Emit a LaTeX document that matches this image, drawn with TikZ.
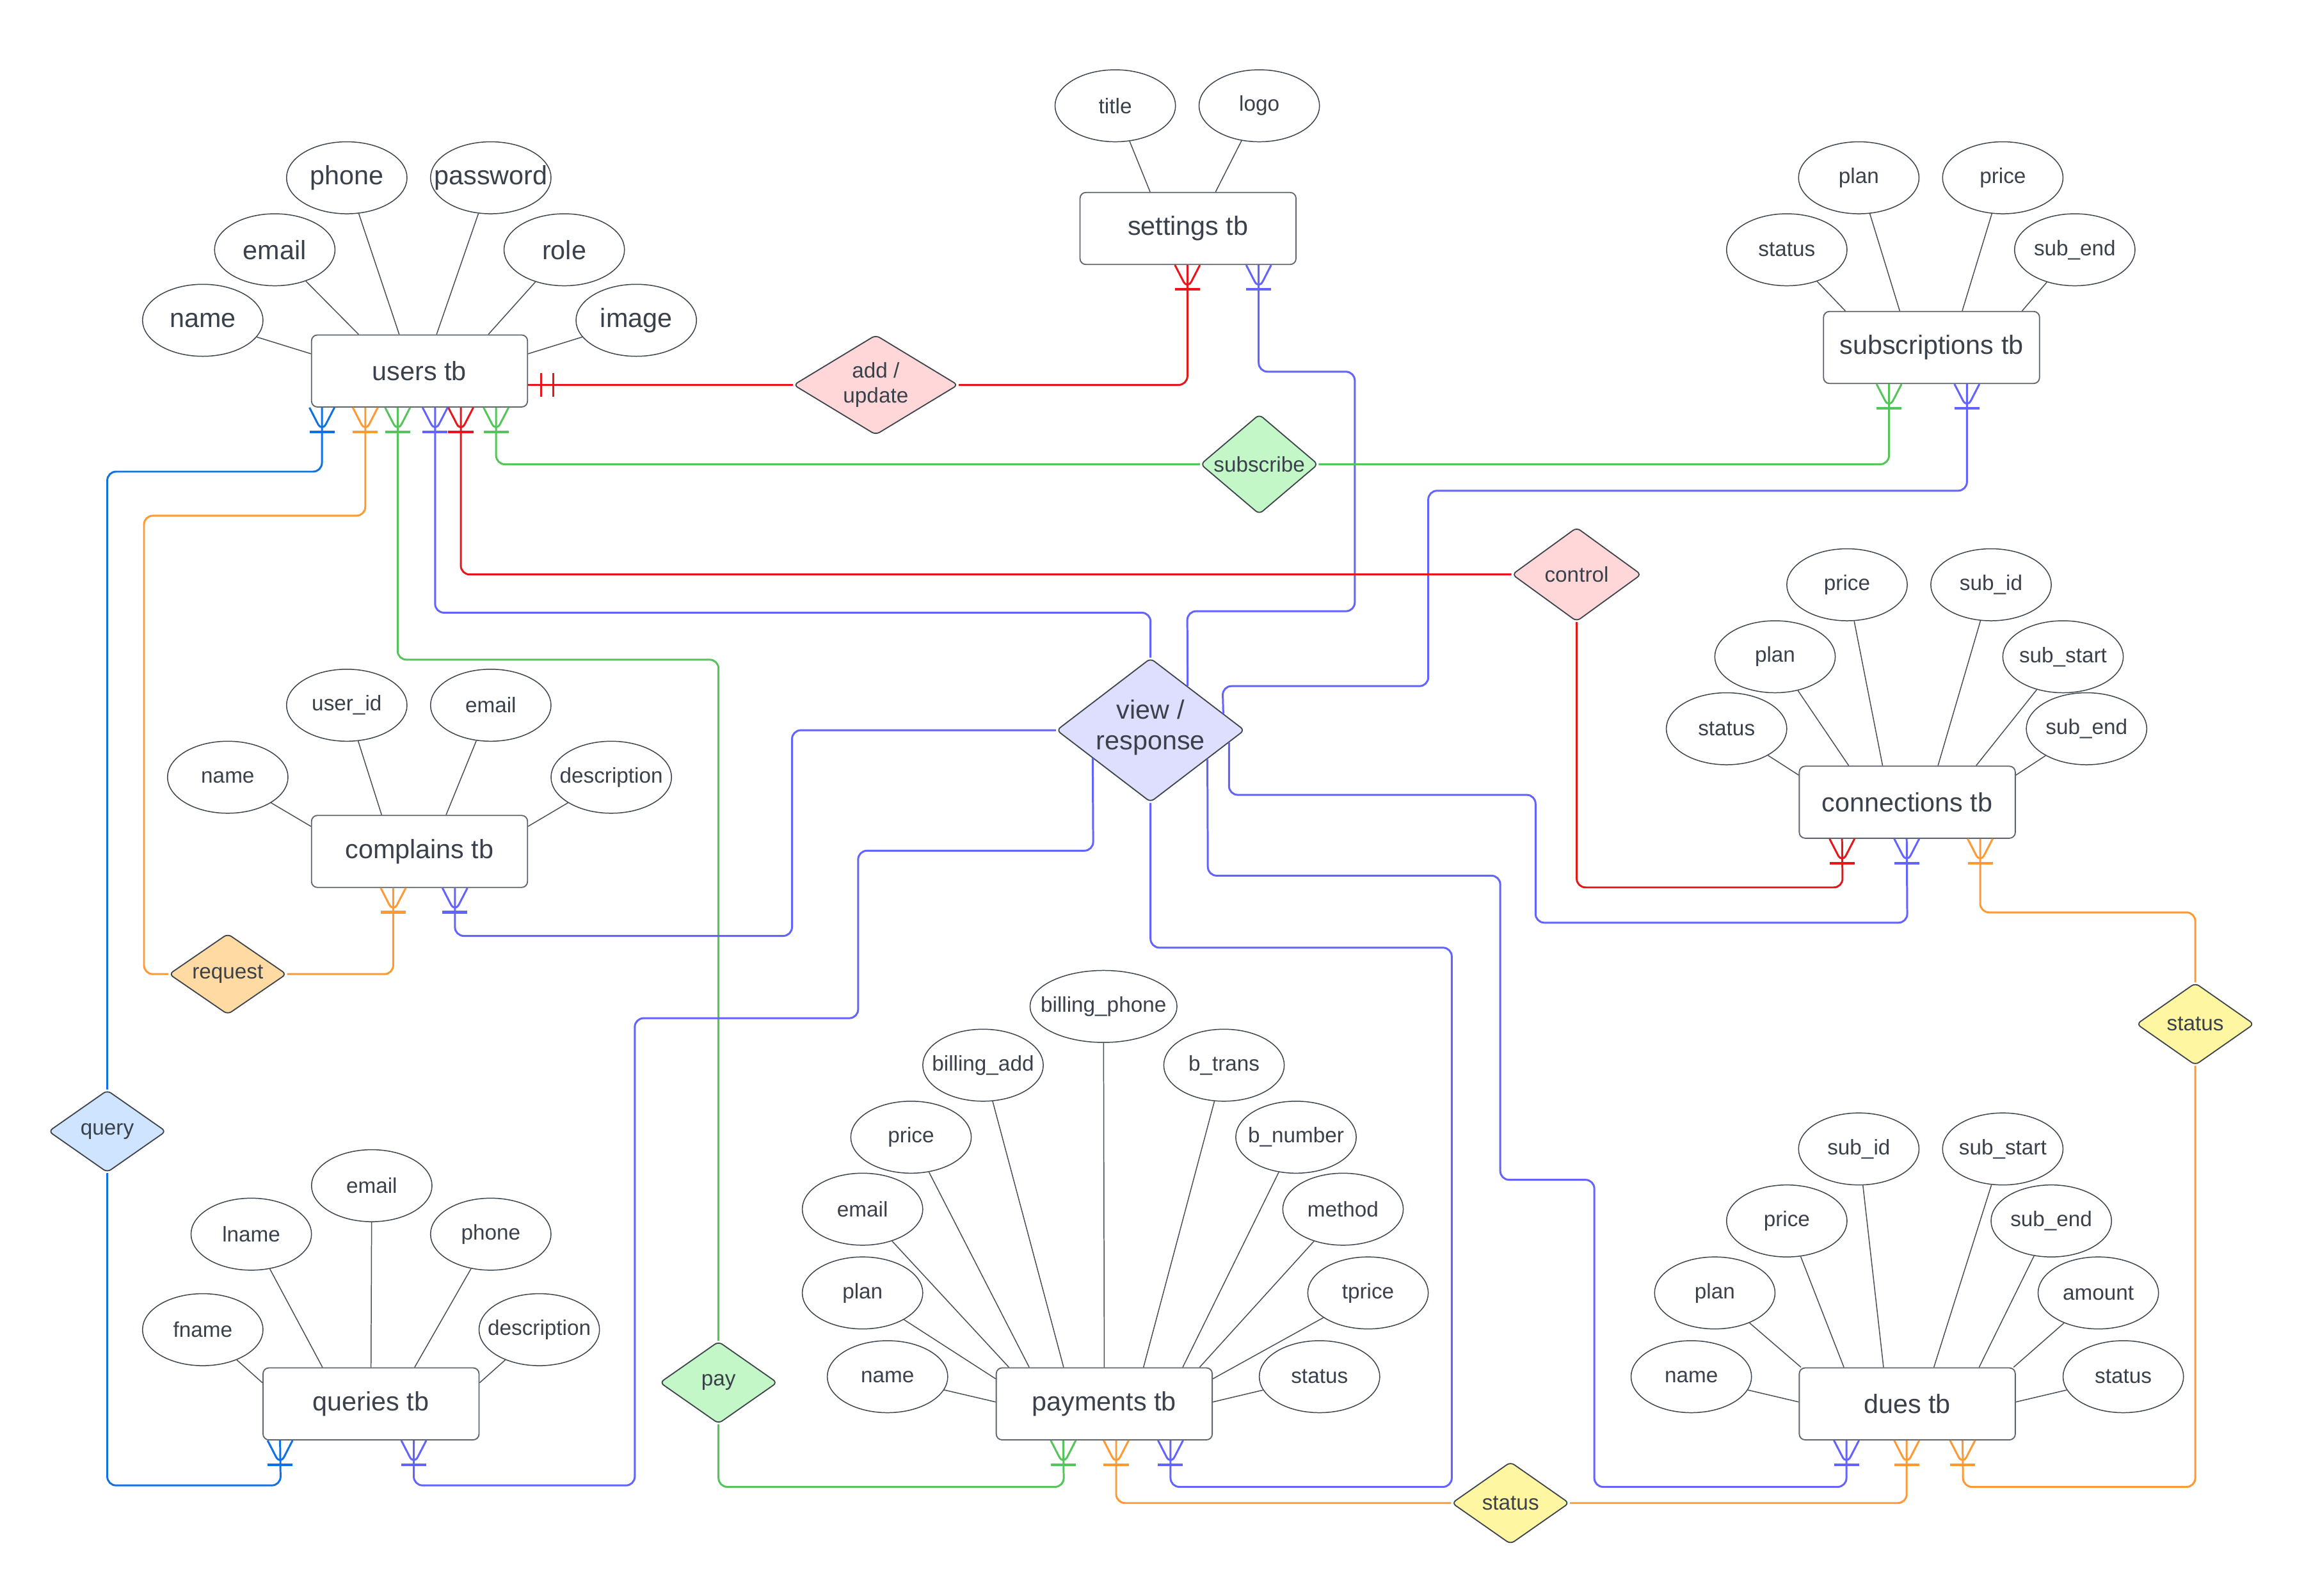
\documentclass[tikz,border=0pt]{standalone}
\usepackage{fontspec}
\setmainfont{Liberation Sans}
\usetikzlibrary{shapes.geometric,calc}
\definecolor{txt}{HTML}{3A414A}
\definecolor{boxc}{HTML}{5F656D}
\definecolor{ellc}{HTML}{3F454D}
\definecolor{linec}{HTML}{4A5058}
\definecolor{cred}{HTML}{E8161B}
\definecolor{cpur}{HTML}{6363FF}
\definecolor{cgrn}{HTML}{55C45A}
\definecolor{corg}{HTML}{FF9933}
\definecolor{cblu}{HTML}{1071E5}
\definecolor{fpink}{HTML}{FFD7D9}
\definecolor{fgrn}{HTML}{C3F7C8}
\definecolor{flav}{HTML}{DEDFFF}
\definecolor{forg}{HTML}{FFDBA3}
\definecolor{fblu}{HTML}{CFE4FF}
\definecolor{fyel}{HTML}{FFF6A1}
\newcommand\fsS{\fontsize{14.5}{17}\selectfont}
\newcommand\fsL{\fontsize{18}{21}\selectfont}
\newcommand\crow[2]{\draw[conn,#2] ($(#1)+(-8.5,0)$) -- ($(#1)+(0,16.5)$) -- ($(#1)+(8.5,0)$);
  \draw[conn,#2,line width=1.8pt] ($(#1)+(-8.5,16.5)$) -- ($(#1)+(8.5,16.5)$);}
\tikzset{
  entity/.style={draw=boxc, line width=0.8pt, rounded corners=4pt, fill=white,
    minimum width=147, minimum height=49, inner sep=0pt, text=txt, font=\fsL},
  attr/.style={ellipse, draw=ellc, line width=0.65pt, fill=white,
    minimum width=82, minimum height=49, inner sep=0pt},
  rel/.style={diamond, draw=ellc, line width=0.8pt, rounded corners=3pt, inner sep=0pt},
  aline/.style={draw=linec, line width=0.65pt},
  conn/.style={line width=1.3pt, rounded corners=6pt},
}
\newcommand\att[4]{\node[attr, label={[font=#4, text=txt]center:#3}] (#1) at (#2) {};}
\begin{document}
\begin{tikzpicture}[x=1pt,y=-1pt]
\fill[white] (0,0) rectangle (1568,1086);
\useasboundingbox (0,0) rectangle (1568,1086);

% entities
\node[entity] (users) at (285.5,252.5) {users tb};
\node[entity] (settings) at (808.5,155.5) {settings tb};
\node[entity] (subs) at (1314.5,236.5) {subscriptions tb};
\node[entity] (compl) at (285.5,579.5) {complains tb};
\node[entity] (conn) at (1298,546) {connections tb};
\node[entity] (queries) at (252.5,955.5) {queries tb};
\node[entity] (paym) at (751.5,955.5) {payments tb};
\node[entity] (dues) at (1298,955.5) {dues tb};

% attributes: users
\att{u1}{138,218}{name}{\fsL}
\att{u2}{187,170}{email}{\fsL}
\att{u3}{236,121}{phone}{\fsL}
\att{u4}{334,121}{password}{\fsL}
\att{u5}{384,170}{role}{\fsL}
\att{u6}{433,218}{image}{\fsL}
\draw[aline] (u1) -- (users.171);
\draw[aline] (u2) -- (users.149);
\draw[aline] (u3) -- (users.119);
\draw[aline] (u4) -- (users.65);
\draw[aline] (u5) -- (users.28);
\draw[aline] (u6) -- (users.9);
% settings
\att{s1}{759,72}{title}{\fsS}
\att{s2}{857,72}{logo}{\fsS}
\draw[aline] (s1) -- (settings.136);
\draw[aline] (s2) -- (settings.53);
% subscriptions
\att{b1}{1216,170}{status}{\fsS}
\att{b2}{1265,121}{plan}{\fsS}
\att{b3}{1363,121}{price}{\fsS}
\att{b4}{1412,170}{sub\_end}{\fsS}
\draw[aline] (b1) -- (subs.157);
\draw[aline] (b2) -- (subs.131);
\draw[aline] (b3) -- (subs.50);
\draw[aline] (b4) -- (subs.22);
% complains
\att{c1}{155,529}{name}{\fsS}
\att{c2}{236,480}{user\_id}{\fsS}
\att{c3}{334,480}{email}{\fsS}
\att{c4}{416,529}{description}{\fsS}
\draw[aline] (c1) -- (compl.167);
\draw[aline] (c2) -- (compl.136);
\draw[aline] (c3) -- (compl.54);
\draw[aline] (c4) -- (compl.13);
% connections
\att{n1}{1175,496}{status}{\fsS}
\att{n2}{1208,447}{plan}{\fsS}
\att{n3}{1257,398}{price}{\fsS}
\att{n4}{1355,398}{sub\_id}{\fsS}
\att{n5}{1404,447}{sub\_start}{\fsS}
\att{n6}{1420,496}{sub\_end}{\fsS}
\draw[aline] (n1) -- (conn.166);
\draw[aline] (n2) -- (conn.148);
\draw[aline] (n3) -- (conn.124);
\draw[aline] (n4) -- (conn.50);
\draw[aline] (n5) -- (conn.28);
\draw[aline] (n6) -- (conn.14);
% queries
\att{q1}{138,905}{fname}{\fsS}
\att{q2}{171,840}{lname}{\fsS}
\att{q3}{253,807}{email}{\fsS}
\att{q4}{334,840}{phone}{\fsS}
\att{q5}{367,905}{description}{\fsS}
\draw[aline] (q1) -- (queries.169);
\draw[aline] (q2) -- (queries.143);
\draw[aline] (q3) -- (queries.90);
\draw[aline] (q4) -- (queries.40);
\draw[aline] (q5) -- (queries.11);
% payments
\att{p1}{604,937}{name}{\fsS}
\att{p2}{587,880}{plan}{\fsS}
\att{p3}{587,823}{email}{\fsS}
\att{p4}{620,774}{price}{\fsS}
\att{p5}{669,725}{billing\_add}{\fsS}
\node[attr, minimum width=100, label={[font=\fsS, text=txt]center:billing\_phone}] (p6) at (751,685) {};
\att{p7}{833,725}{b\_trans}{\fsS}
\att{p8}{882,774}{b\_number}{\fsS}
\att{p9}{914,823}{method}{\fsS}
\att{p10}{931,880}{tprice}{\fsS}
\att{p11}{898,937}{status}{\fsS}
\draw[aline] (p1) -- (paym.179);
\draw[aline] (p2) -- (paym.167);
\draw[aline] (p3) -- (paym.159);
\draw[aline] (p4) -- (paym.154);
\draw[aline] (p5) -- (paym.138);
\draw[aline] (p6) -- (paym.90);
\draw[aline] (p7) -- (paym.43);
\draw[aline] (p8) -- (paym.25);
\draw[aline] (p9) -- (paym.21);
\draw[aline] (p10) -- (paym.13);
\draw[aline] (p11) -- (paym.1);
% dues
\att{d1}{1151,937}{name}{\fsS}
\att{d2}{1167,880}{plan}{\fsS}
\att{d3}{1216,831}{price}{\fsS}
\att{d4}{1265,782}{sub\_id}{\fsS}
\att{d5}{1363,782}{sub\_start}{\fsS}
\att{d6}{1396,831}{sub\_end}{\fsS}
\att{d7}{1428,880}{amount}{\fsS}
\att{d8}{1445,937}{status}{\fsS}
\draw[aline] (d1) -- (dues.179);
\draw[aline] (d2) -- (dues.161);
\draw[aline] (d3) -- (dues.150);
\draw[aline] (d4) -- (dues.123);
\draw[aline] (d5) -- (dues.54);
\draw[aline] (d6) -- (dues.27);
\draw[aline] (d7) -- (dues.19);
\draw[aline] (d8) -- (dues.1);

% relationships
\node[rel, fill=fpink, minimum width=112, minimum height=68,
  label={[font=\fsS, text=txt, align=center]center:add /\\update}] (adu) at (596,262) {};
\node[rel, fill=fgrn, minimum width=80, minimum height=68,
  label={[font=\fsS, text=txt]center:subscribe}] (sub) at (857,316) {};
\node[rel, fill=fpink, minimum width=88, minimum height=64,
  label={[font=\fsS, text=txt]center:control}] (ctl) at (1073,391) {};
\node[rel, fill=flav, minimum width=128, minimum height=98,
  label={[font=\fsL, text=txt, align=center, yshift=2pt]center:view /\\response}] (vr) at (783,497) {};
\node[rel, fill=forg, minimum width=80, minimum height=55,
  label={[font=\fsS, text=txt]center:request}] (req) at (155,663) {};
\node[rel, fill=fblu, minimum width=80, minimum height=56,
  label={[font=\fsS, text=txt]center:query}] (qry) at (73,770) {};
\node[rel, fill=fyel, minimum width=80, minimum height=56,
  label={[font=\fsS, text=txt]center:status}] (str) at (1494,697) {};
\node[rel, fill=fgrn, minimum width=80, minimum height=56,
  label={[font=\fsS, text=txt]center:pay}] (payd) at (489,941) {};
\node[rel, fill=fyel, minimum width=80, minimum height=56,
  label={[font=\fsS, text=txt]center:status}] (stb) at (1028,1023) {};

% foot coordinates
\coordinate (uf1) at ($(users.south west)+(7.5,0)$);
\coordinate (uf2) at ($(users.south west)+(37,0)$);
\coordinate (uf3) at ($(users.south west)+(59,0)$);
\coordinate (uf4) at ($(users.south west)+(84.5,0)$);
\coordinate (uf5) at ($(users.south west)+(102,0)$);
\coordinate (uf6) at ($(users.south west)+(126,0)$);
\coordinate (uR) at ($(users.east)+(0,9.5)$);
\coordinate (sf1) at ($(settings.south west)+(73.5,0)$);
\coordinate (sf2) at ($(settings.south west)+(122,0)$);
\coordinate (bf1) at ($(subs.south west)+(45,0)$);
\coordinate (bf2) at ($(subs.south west)+(98,0)$);
\coordinate (cf1) at ($(compl.south west)+(56,0)$);
\coordinate (cf2) at ($(compl.south west)+(98,0)$);
\coordinate (nf1) at ($(conn.south west)+(29.5,0)$);
\coordinate (nf2) at ($(conn.south west)+(73.5,0)$);
\coordinate (nf3) at ($(conn.south west)+(123.5,0)$);
\coordinate (qf1) at ($(queries.south west)+(12,0)$);
\coordinate (qf2) at ($(queries.south west)+(103,0)$);
\coordinate (pf1) at ($(paym.south west)+(46,0)$);
\coordinate (pf2) at ($(paym.south west)+(82,0)$);
\coordinate (pf3) at ($(paym.south west)+(119,0)$);
\coordinate (df1) at ($(dues.south west)+(32.5,0)$);
\coordinate (df2) at ($(dues.south west)+(73.5,0)$);
\coordinate (df3) at ($(dues.south west)+(111.5,0)$);

% connectors
% red: users -- add/update -- settings
\draw[conn,cred] (uR) -- (adu.west);
\draw[cred,line width=1.3pt] ($(uR)+(9,-8)$) -- ($(uR)+(9,8)$) ($(uR)+(17,-8)$) -- ($(uR)+(17,8)$);
\draw[conn,cred] (adu.east) -| (sf1);
\crow{sf1}{cred}
% purple: settings -- view/response
\draw[conn,cpur] (sf2) |- (922,253) |- (808,416) -- (vr.50.1);
\crow{sf2}{cpur}
% green: users -- subscribe -- subscriptions
\draw[conn,cgrn] (uf6) |- (sub.west);
\crow{uf6}{cgrn}
\draw[conn,cgrn] (sub.east) -| (bf1);
\crow{bf1}{cgrn}
% purple: subscriptions -- view/response
\draw[conn,cpur] (bf2) |- (972,334) |- (832,467) -- (vr.13.2);
\crow{bf2}{cpur}
% red: users -- control -- connections
\draw[conn,cred] (uf5) |- (ctl.west);
\crow{uf5}{cred}
\draw[conn,cred] (ctl.south) |- (1254,604) -- (nf1);
\crow{nf1}{cred}
% purple: users -- view/response
\draw[conn,cpur] (uf4) |- (783,417) -- (vr.north);
\crow{uf4}{cpur}
% green: users -- pay -- payments
\draw[conn,cgrn] (uf3) |- (489,449) -- (payd.north);
\crow{uf3}{cgrn}
\draw[conn,cgrn] (payd.south) |- (724,1012) -- (pf1);
\crow{pf1}{cgrn}
% orange: users -- request -- complains
\draw[conn,corg] (uf2) |- (98,351) |- (req.west);
\crow{uf2}{corg}
\draw[conn,corg] (req.east) -| (cf1);
\crow{cf1}{corg}
% blue: users -- query -- queries
\draw[conn,cblu] (uf1) |- (73,321) -- (qry.north);
\crow{uf1}{cblu}
\draw[conn,cblu] (qry.south) |- (191,1011) -- (qf1);
\crow{qf1}{cblu}
% purple: complains -- view/response
\draw[conn,cpur] (cf2) |- (539,637) |- (vr.west);
\crow{cf2}{cpur}
% purple: queries -- view/response
\draw[conn,cpur] (qf2) |- (432,1011) |- (584,693) |- (744,579) -- (vr.206.1);
\crow{qf2}{cpur}
% purple: payments -- view/response
\draw[conn,cpur] (pf3) |- (988,1012) |- (783,645) -- (vr.south);
\crow{pf3}{cpur}
% purple: dues -- view/response
\draw[conn,cpur] (df1) |- (1085,1012) |- (1021,803) |- (822,596) -- (vr.333.9);
\crow{df1}{cpur}
% purple: view/response -- connections
\draw[conn,cpur] (vr.351.9) |- (1045,541) |- (1298,628) -- (nf2);
\crow{nf2}{cpur}
% orange: payments -- status -- dues
\draw[conn,corg] (pf2) |- (stb.west);
\crow{pf2}{corg}
\draw[conn,corg] (stb.east) -| (df2);
\crow{df2}{corg}
% orange: connections -- status -- dues
\draw[conn,corg] (nf3) |- (1494,621) -- (str.north);
\crow{nf3}{corg}
\draw[conn,corg] (str.south) |- (1336,1012) -- (df3);
\crow{df3}{corg}
\end{tikzpicture}
\end{document}
